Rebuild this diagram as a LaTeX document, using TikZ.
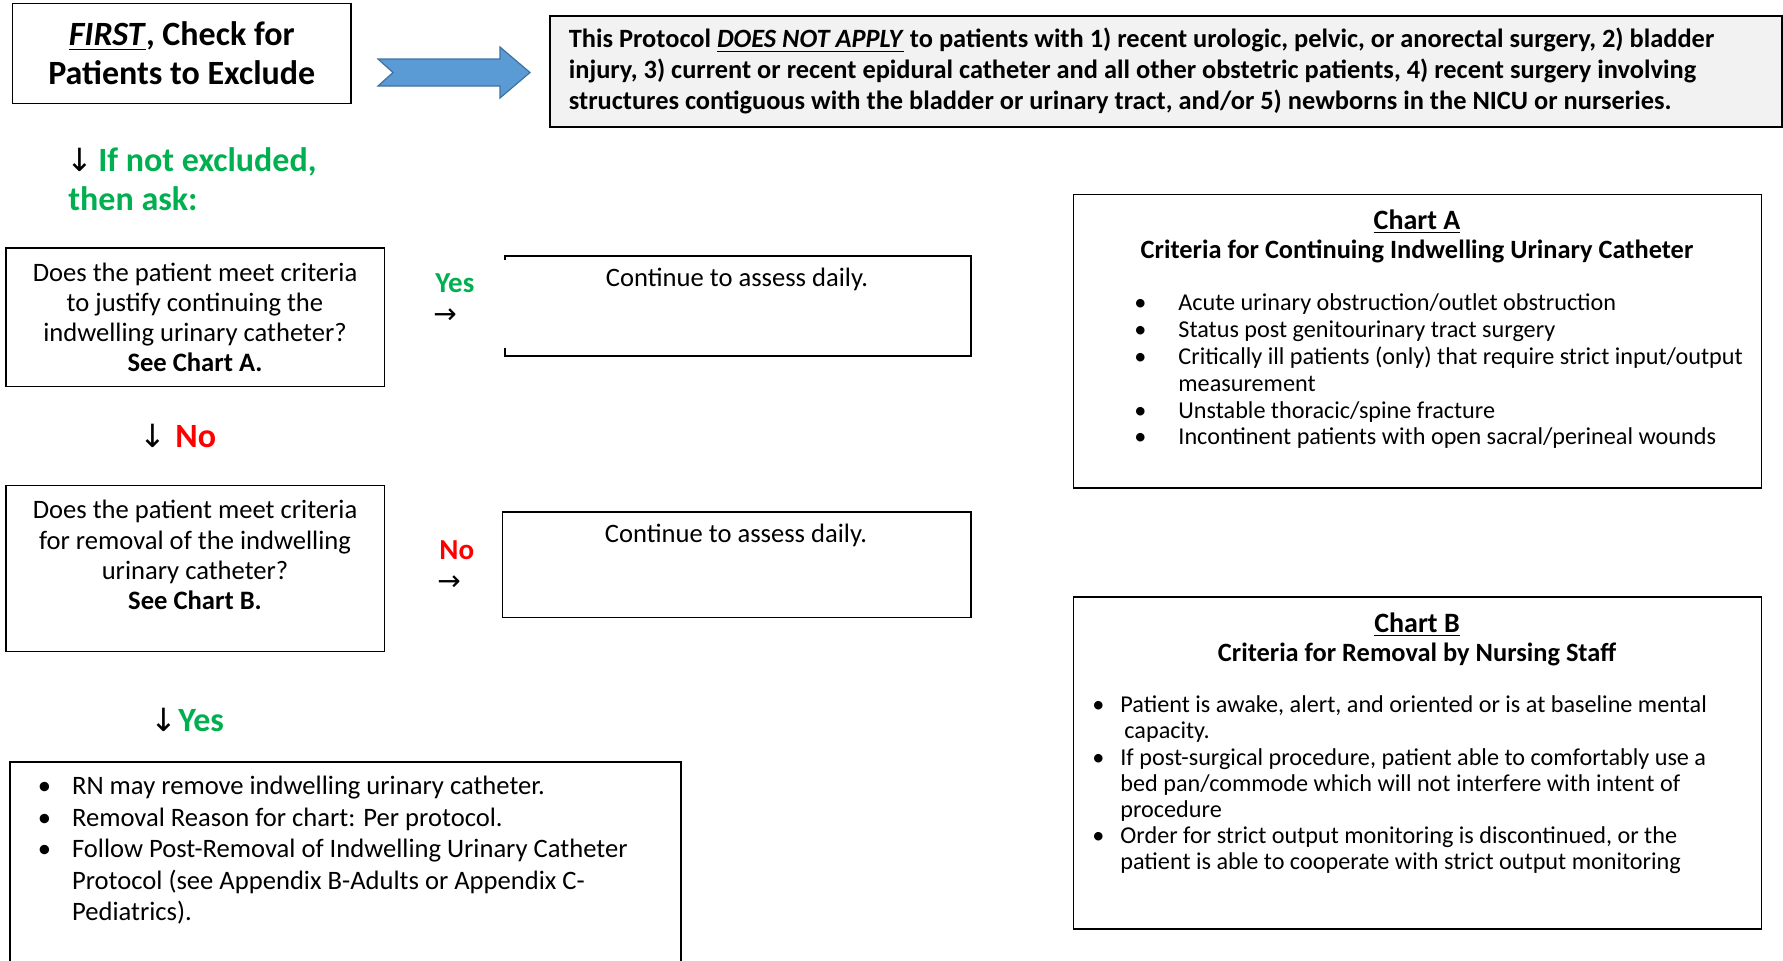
\documentclass[tikz,border=0pt]{standalone}
\usepackage{fontspec}
\setmainfont{Carlito}
\newfontfamily\arrowfont{DejaVu Sans}
\usepackage{tikz}
\usetikzlibrary{
    arrows.meta,
    positioning
}
\usepackage{xcolor}
\definecolor{okgreen}{HTML}{00B050}
\definecolor{nored}{HTML}{FF0000}
\definecolor{arrowblue}{HTML}{5B9BD5}
\definecolor{arrowedge}{HTML}{41719C}
\definecolor{notefill}{HTML}{F2F2F2}
\newcommand{\bul}[1]{\makebox[#1][l]{\textbullet}}
\newcommand{\darr}[2]{\makebox[#1][l]{\hspace{#2}\makebox[7pt][c]{\color{black}\arrowfont\mdseries\fontsize{16}{16}\selectfont ↓}}}
\newcommand{\rarr}{{\color{black}\arrowfont\mdseries\fontsize{14}{14}\selectfont →}}

\begin{document}
\begin{tikzpicture}[
        x=0.5pt, y=-0.5pt,
        box/.style={
            draw,
            line width=0.8pt,
            inner sep=0pt,
            outer sep=0pt,
            anchor=north west
        },
        body/.style={
            inner sep=0pt,
            font=\fontsize{13.3}{15.1}\selectfont
        },
        chartlist/.style={
            inner sep=0pt,
            anchor=west,
            align=left,
            font=\fontsize{12.1}{13.4}\selectfont
        },
        charthead/.style={
            inner sep=0pt,
            font=\bfseries\fontsize{14}{15}\selectfont
        },
        chartsub/.style={
            inner sep=0pt,
            font=\bfseries\fontsize{13.2}{14}\selectfont
        },
        bigbold/.style={
            inner sep=0pt,
            font=\bfseries\fontsize{17}{19.4}\selectfont
        },
        answer/.style={
            inner sep=0pt,
            anchor=west,
            font=\bfseries\fontsize{14.5}{15}\selectfont
        }
    ]
    \useasboundingbox (0,0) rectangle (1783,960);

    % top row
    \node[box, minimum width=169.25pt, minimum height=50pt, align=center,
          font=\bfseries\fontsize{17}{19.4}\selectfont] (first) at (12.5,3.5)
          {\underline{\textit{FIRST}}, Check for\\Patients to Exclude};
    \node[box, fill=notefill, minimum width=616pt, minimum height=55.5pt] (protocol) at (550,16) {};
    \node[inner sep=0pt, anchor=west, align=left, font=\bfseries\fontsize{13.2}{15.3}\selectfont]
        (protocoltxt) at (568.5,71)
        {This Protocol \underline{\textit{DOES NOT APPLY}} to patients with 1) recent urologic, pelvic, or anorectal surgery, 2) bladder\\
         injury, 3) current or recent epidural catheter and all other obstetric patients, 4) recent surgery involving\\
         structures contiguous with the bladder or urinary tract, and/or 5) newborns in the NICU or nurseries.};
    \coordinate (tail) at (378,72.5);
    \coordinate (tip) at (530,72.5);
    \fill[arrowblue, draw=arrowedge, line width=0.6pt]
        (tail) ++(0,-13.5) -- ++(122,0) -- ++(0,-12) -- (tip) -- ++(-30,25.5)
        -- ++(0,-12) -- ++(-122,0) -- ++(15,-13.5) -- cycle;

    \node[bigbold, anchor=west, align=left, text=okgreen] (notexcl) at (68,179.5)
        {\darr{15pt}{2.5pt}If not excluded,\\then ask:};

    % first question
    \node[box, minimum width=189.3pt, minimum height=69.3pt] (q1) at (5.7,248) {};
    \node[body, align=center] (q1txt) at (q1.center)
        {Does the patient meet criteria\\to justify continuing the\\indwelling urinary catheter?\\\textbf{See Chart A.}};
    \node[answer, text=okgreen] (yes1) at (435,283) {Yes};
    \node[answer] (yes1arr) at (433,316) {\rarr};
    \node[box, draw=none, minimum width=233pt, minimum height=50pt] (cont1) at (505,256) {};
    \draw[line width=0.8pt] ([yshift=-2pt]cont1.north west) -- (cont1.north west) -- (cont1.north east)
        -- (cont1.south east) -- (cont1.south west) -- ([yshift=4pt]cont1.south west);
    \node[body] (cont1txt) at (737,279.5) {Continue to assess daily.};

    \node[bigbold, anchor=west, text=nored] (no1) at (146,435.5) {\darr{14.5pt}{0pt}No};

    % second question
    \node[box, minimum width=189.3pt, minimum height=83pt] (q2) at (5.7,485.5) {};
    \node[body, align=center] (q2txt) at ([yshift=6.75pt]q2.center)
        {Does the patient meet criteria\\for removal of the indwelling\\urinary catheter?\\\textbf{See Chart B.}};
    \node[answer, text=nored] (no2) at (439,550) {No};
    \node[answer] (no2arr) at (437,583) {\rarr};
    \node[box, minimum width=234.2pt, minimum height=52.85pt] (cont2) at (502.6,511.7) {};
    \node[body] (cont2txt) at (736,535) {Continue to assess daily.};

    \node[bigbold, anchor=west, text=okgreen] (yes2) at (156,720) {\darr{11pt}{0.25pt}Yes};

    % removal box, open at the foot of the page
    \coordinate (rnfoot) at (10,975);
    \draw[line width=0.8pt] (rnfoot) -- (10,762) -- (681,762) -- (681,975);
    \node[inner sep=0pt, anchor=west, align=left, font=\fontsize{13.3}{15.75}\selectfont] (rnlist) at (37.5,850.5)
        {\bul{17.1pt}RN may remove indwelling urinary catheter.\\
         \bul{17.1pt}Removal Reason for chart: Per protocol.\\
         \bul{17.1pt}Follow Post-Removal of Indwelling Urinary Catheter\\
         \hspace*{17.1pt}Protocol (see Appendix B-Adults or Appendix C-\\
         \hspace*{17.1pt}Pediatrics).};

    % chart A
    \node[box, minimum width=344pt, minimum height=146.7pt] (charta) at (1073.4,194.4) {};
    \node[charthead] (chartatitle) at (1417,222) {\underline{Chart A}};
    \node[chartsub] (chartasub) at (1417,251.5)
        {Criteria for Continuing Indwelling Urinary Catheter};
    \node[chartlist] (chartalist) at (1134,371.5)
        {\bul{22pt}Acute urinary obstruction/outlet obstruction\\
         \bul{22pt}Status post genitourinary tract surgery\\
         \bul{22pt}Critically ill patients (only) that require strict input/output\\
         \hspace*{22pt}measurement\\
         \bul{22pt}Unstable thoracic/spine fracture\\
         \bul{22pt}Incontinent patients with open sacral/perineal wounds};

    % chart B
    \node[box, minimum width=344pt, minimum height=166pt] (chartb) at (1073.4,597) {};
    \node[charthead] (chartbtitle) at (1417,624.5) {\underline{Chart B}};
    \node[chartsub] (chartbsub) at (1417,654)
        {Criteria for Removal by Nursing Staff};
    \node[chartlist, font=\fontsize{12.1}{13.1}\selectfont] (chartblist) at (1092,785)
        {\bul{14pt}Patient is awake, alert, and oriented or is at baseline mental\\
         \hspace*{16pt}capacity.\\
         \bul{14pt}If post-surgical procedure, patient able to comfortably use a\\
         \hspace*{14pt}bed pan/commode which will not interfere with intent of\\
         \hspace*{14pt}procedure\\
         \bul{14pt}Order for strict output monitoring is discontinued, or the\\
         \hspace*{14pt}patient is able to cooperate with strict output monitoring};
\end{tikzpicture}
\end{document}
